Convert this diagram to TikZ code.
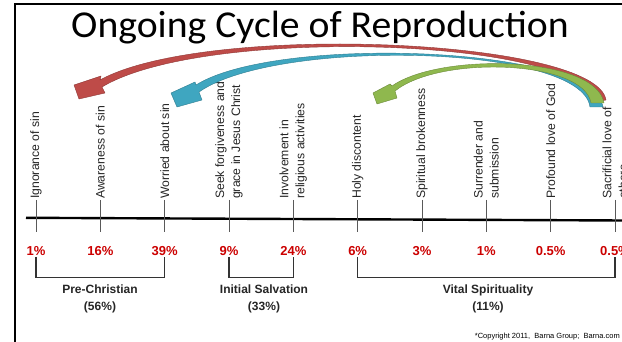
\documentclass[tikz,border=0pt]{standalone}
\usepackage{fontspec}
\setmainfont{Liberation Sans}
\newfontfamily\titlefont[FakeStretch=1.045]{Carlito}
\definecolor{arrred}{HTML}{BE4B48}
\definecolor{arrblue}{HTML}{3FA6C0}
\definecolor{arrgreen}{HTML}{8FB84E}
\definecolor{pctred}{HTML}{CC0000}
\definecolor{labelgray}{HTML}{262626}
\begin{document}
\begin{tikzpicture}[x=1pt,y=-1pt,
  stage/.style={rotate=90,anchor=west,align=left,font=\fontsize{12.2}{16}\selectfont,text=labelgray,inner sep=1pt},
  pct/.style={anchor=base,font=\fontsize{13}{15}\selectfont\bfseries,text=pctred,inner sep=1.5pt},
  grp/.style={anchor=base,font=\fontsize{12}{14}\selectfont\bfseries,text=labelgray,inner sep=0pt},
  tickline/.style={draw=black!65,line width=0.9pt},
  bracket/.style={draw=black!80,line width=1.2pt},
  arrowbody/.style={line width=0.4pt,line join=round},
]
\clip (0,0) rectangle (622,342);
\fill[white] (0,0) rectangle (622,342);
% frame
\draw[line width=1.4pt] (15,343) -- (15,4) -- (623,4);
% title
\node[anchor=base,font=\titlefont\fontsize{38}{40}\selectfont,inner sep=0pt] (title) at (320,37.5) {Ongoing Cycle of Reproduction};
% axis
\coordinate (axL) at (26,217.8);
\coordinate (axR) at (623,220.5);
\draw[line width=2.4pt] (axL) -- (axR);
% stages
\foreach \i/\txt/\p in {
  0/{Ignorance of sin}/1\%,
  1/{Awareness of sin}/16\%,
  2/{Worried about sin}/39\%,
  3/{Seek forgiveness and\\grace in Jesus Christ}/9\%,
  4/{Involvement in\\religious activities}/24\%,
  5/{Holy discontent}/6\%,
  6/{Spiritual brokenness}/3\%,
  7/{Surrender and\\submission}/1\%,
  8/{Profound love of God}/0.5\%,
  9/{Sacrificial love of\\others}/0.5\%}{
  \pgfmathsetmacro\xx{36+64.33*\i}
  \coordinate (t\i) at (\xx,200);
  \coordinate (b\i) at (\xx,232);
  \draw[tickline] (t\i) -- (b\i);
  \node[stage] (s\i) at (t\i) {\txt};
  \node[pct] (p\i) at (\xx,255) {\p};
}
% brackets
\draw[bracket] (p0.south) -- ++(0,21) -| (p2.south);
\draw[bracket] (p3.south) -- ++(0,21) -| (p4.south);
\draw[bracket] (p5.south) -- ++(0,21) -| (p9.south);
% group labels
\node[grp] (g1) at (100,293.5) {Pre-Christian};
\node[grp] (g1b) at (100,310) {(56\%)};
\node[grp] (g2) at (264,293.5) {Initial Salvation};
\node[grp] (g2b) at (264,310) {(33\%)};
\node[grp] (g3) at (488,293.5) {Vital Spirituality};
\node[grp] (g3b) at (488,310) {(11\%)};
% copyright
\node[anchor=base east,font=\fontsize{7.5}{9}\selectfont,inner sep=0pt] (copy) at (620,338) {*Copyright 2011,\ \ Barna Group;\ \ Barna.com};
% curved arrows
\filldraw[arrowbody,fill=arrred,draw=arrred!75!black]
  (606,100) .. controls (596,38) and (205,22) .. (100,80)
  -- (101,76) -- (74,85) -- (79,99) -- (105,93) -- (102,87)
  .. controls (205,25) and (584,38) .. (594,102) -- cycle;
\filldraw[arrowbody,fill=arrblue,draw=arrblue!75!black]
  (603,107) .. controls (592,45) and (275,35) .. (196,85)
  -- (195,82) -- (171,93) -- (177,107) -- (202,100) -- (199,92)
  .. controls (276,38) and (582,44) .. (590,107) -- cycle;
\filldraw[arrowbody,fill=arrgreen,draw=arrgreen!75!black]
  (604,103) .. controls (596,56) and (440,52) .. (392,86)
  -- (390,84) -- (373,93) -- (377,104) -- (397,98) -- (395,91)
  .. controls (440,55) and (584,60) .. (591,103) -- cycle;
\end{tikzpicture}
\end{document}
